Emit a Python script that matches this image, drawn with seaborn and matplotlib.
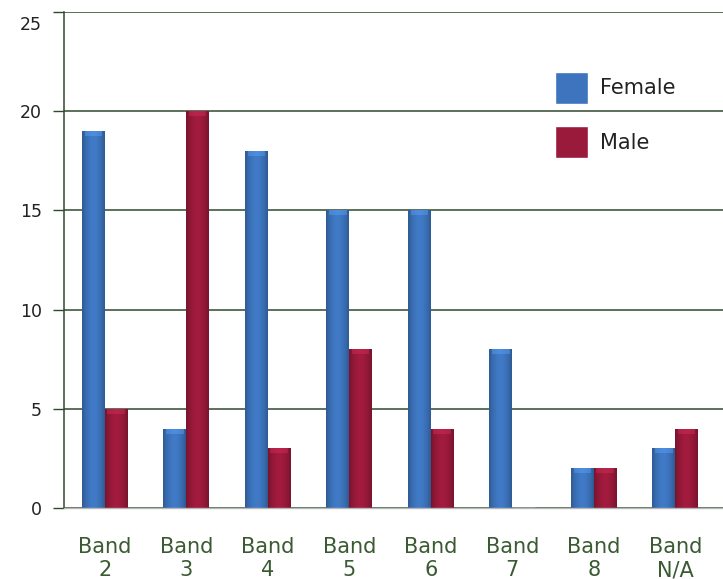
import matplotlib
matplotlib.use("Agg")
import matplotlib.pyplot as plt
import matplotlib.colors as mcolors
import matplotlib.transforms as mtransforms
import seaborn as sns
import pandas as pd
import numpy as np

# Headcount by pay band and gender
bands = ["Band\n2", "Band\n3", "Band\n4", "Band\n5", "Band\n6", "Band\n7", "Band\n8", "Band\nN/A"]
female = [19, 4, 18, 15, 15, 8, 2, 3]
male = [5, 20, 3, 8, 4, 0, 2, 4]
groups = ["Female", "Male"]
colors = ["#3d74bd", "#9a1a3b"]

df = pd.DataFrame({
    "band": bands * 2,
    "count": female + male,
    "gender": [groups[0]] * len(bands) + [groups[1]] * len(bands),
})

sns.set_theme(style="white")
plt.rcParams["font.family"] = ["DejaVu Sans"]

W, H = 723, 579
fig = plt.figure(figsize=(W / 100, H / 100), dpi=100)
ax = fig.add_axes([64 / W, 71 / H, 1 - 64 / W, (508 - 12) / H])

sns.barplot(data=df, x="band", y="count", hue="gender", order=bands,
            hue_order=groups, palette=colors, width=0.56, saturation=1,
            ax=ax, legend=True)

ax.set_ylim(0, 25)
ax.set_xlim(-0.5, 7.5 + 7 / 81.5)


def shade(bar):
    """Give a bar a soft cylindrical look: darker sides, lighter middle."""
    x0, y0 = bar.get_x(), bar.get_y()
    w, h = bar.get_width(), bar.get_height()
    if h <= 0:
        return
    base = np.array(mcolors.to_rgb(bar.get_facecolor()))
    t = np.linspace(-1, 1, 64)
    k = 1.0 - 0.22 * t ** 2 + 0.06 * (1 - np.abs(t))
    row = np.clip(base[None, :] * k[:, None], 0, 1)
    img = np.repeat(row[None, :, :], 2, axis=0)
    im = ax.imshow(img, extent=(x0, x0 + w, y0, y0 + h), aspect="auto",
                   origin="lower", zorder=bar.get_zorder() + 0.1,
                   interpolation="bilinear")
    im.set_clip_path(bar)
    # light cap along the top edge
    cap_h = 0.25
    cap = np.clip(base * 1.35 + 0.05, 0, 1)
    ax.fill_between([x0 + w * 0.12, x0 + w * 0.88], y0 + h - cap_h, y0 + h,
                    color=cap, alpha=0.4, linewidth=0,
                    zorder=bar.get_zorder() + 0.2)


for bar in list(ax.patches):
    if bar.get_height() > 0 and bar.get_width() < 1:
        shade(bar)
        bar.set_edgecolor("none")

ax.set_xlim(-0.5, 7.5 + 7 / 81.5)
ax.set_ylim(0, 25)
ax.set_yticks([0, 5, 10, 15, 20, 25])
ax.yaxis.grid(True, color="#2e4a2e", linewidth=1.1)
ax.set_axisbelow(True)
ax.set_xlabel("")
ax.set_ylabel("")

# category separators on the x axis
ax.set_xticks(np.arange(-0.5, 8.0, 1.0), minor=True)
ax.tick_params(axis="x", which="minor", length=9, color="#b0b0b0", width=1, direction="out")
ax.tick_params(axis="x", which="major", length=0, pad=21, labelsize=15, labelcolor="#3a5a32")
ax.tick_params(axis="y", which="major", length=8, color="#2e4a2e", width=1, pad=8,
               labelsize=12.5, labelcolor="#222222", left=True)
for lbl in ax.get_xticklabels():
    lbl.set_linespacing(1.2)
top_lbl = ax.get_yticklabels()[-1]
top_lbl.set_va("top")
top_lbl.set_transform(top_lbl.get_transform()
                      + mtransforms.ScaledTranslation(0, -3 / 72, fig.dpi_scale_trans))

for side in ["top", "right"]:
    ax.spines[side].set_visible(False)
ax.spines["left"].set_color("#2e4a2e")
ax.spines["left"].set_linewidth(1.1)
ax.spines["bottom"].set_color("#b8b8b8")
ax.spines["bottom"].set_linewidth(1.0)

ax_h = 508 - 12
ax_w = W - 64
leg = ax.legend(title=None, frameon=False, loc="upper left",
                bbox_to_anchor=((536 - 64) / ax_w, (508 - 53) / ax_h),
                fontsize=15, handlelength=1.6, handleheight=2.0,
                handletextpad=0.55, labelspacing=1.05)
for t in leg.get_texts():
    t.set_color("#222222")

fig.savefig("out.png", dpi=100)
